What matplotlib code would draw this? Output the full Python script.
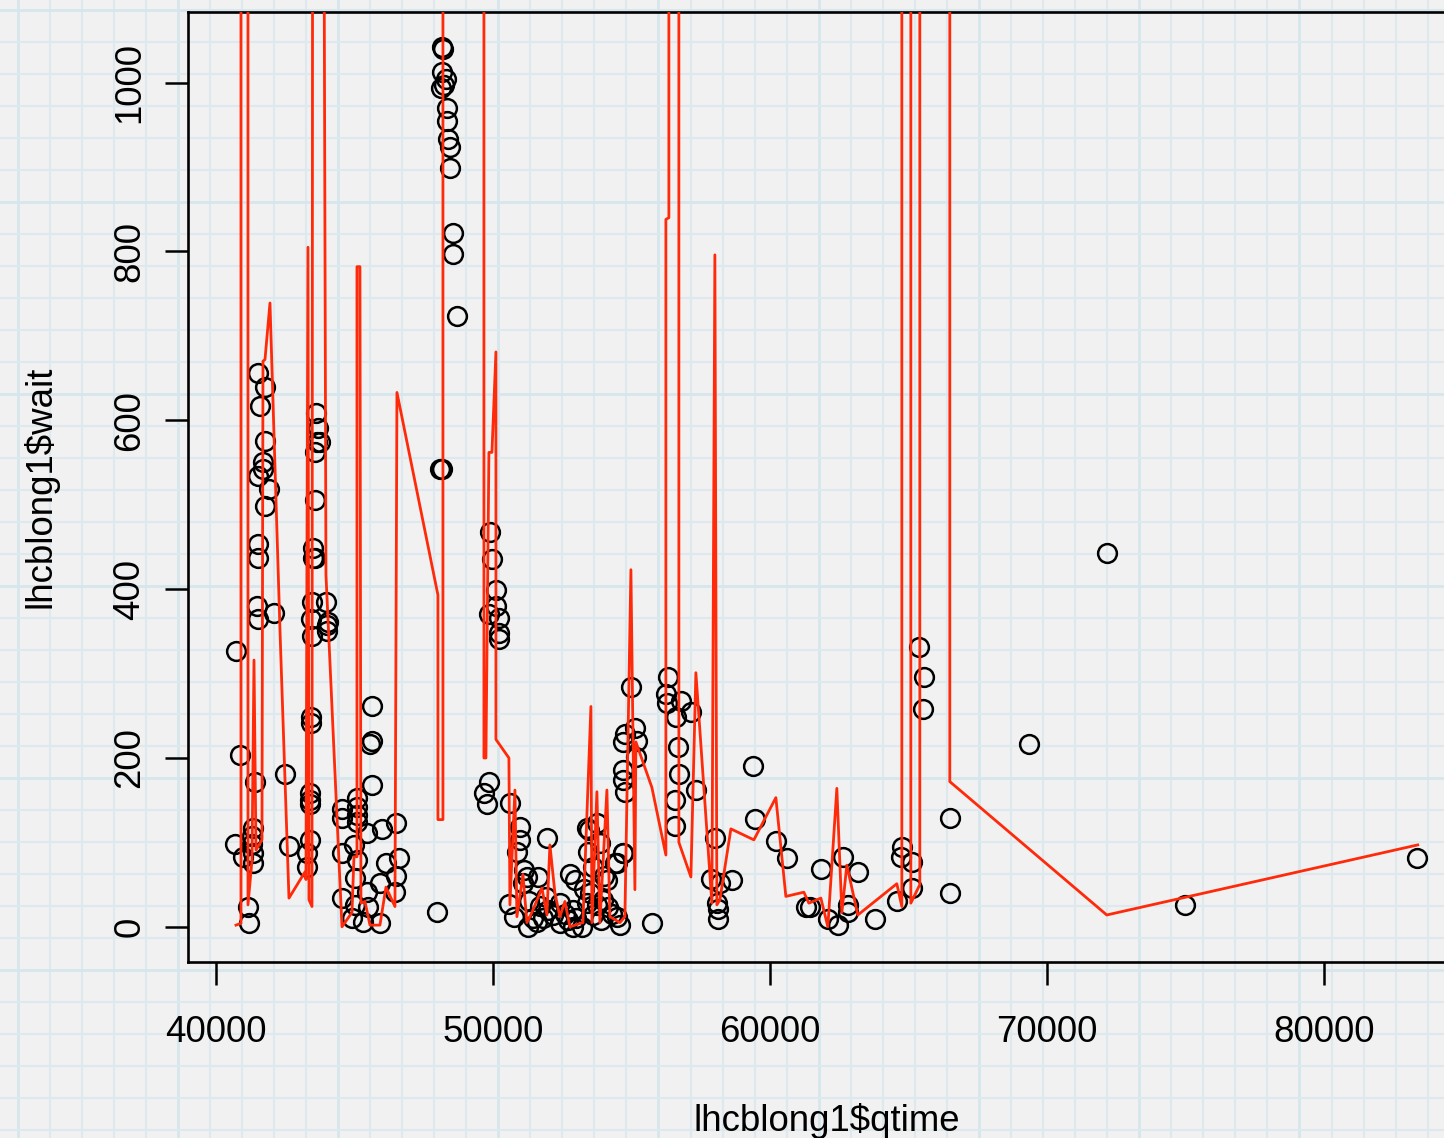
import matplotlib
matplotlib.use("Agg")
import matplotlib.pyplot as plt
import numpy as np

plt.rcParams['font.family'] = ['Liberation Sans', 'DejaVu Sans']

# ---- scatter data: lhcblong1$qtime vs lhcblong1$wait ----
qtime = [
    40722, 40866, 40686, 40975, 41155, 41191, 41336, 41300, 41300, 41336, 41336, 41408,
    41516, 41769, 41588, 41769, 41697, 41697, 41516, 41913, 41769, 41516, 41516, 41480,
    41516, 42094, 42491, 42635,
    43610, 43682, 43646, 43754, 43574, 43574, 43502, 43502, 43574, 43466, 43971, 43430,
    44043, 43466, 44007, 44007, 43430, 43430, 43393, 43393, 43393, 43393, 43285, 43285,
    44549, 44549, 45090, 45090, 45090, 45090, 45993, 46498, 45451, 44549, 44982, 45090,
    46606, 46137, 46498, 45018, 45920, 46462, 44549, 45451, 45018, 45487, 44910, 45307,
    45920, 45631, 45631, 45560, 45631, 47978,
    48086, 48159, 48159, 48195, 48159, 48303, 48123, 48231, 48339, 48339, 48375, 48447,
    48447, 48556, 48556, 48700,
    49891, 49964, 50108, 50108, 49855, 50216, 50216, 50216, 49855, 49675, 49783, 50613,
    50974, 50974, 50866,
    51948, 50577, 50758, 51227, 51624, 51083, 51588, 51263, 52779, 52959, 53393, 53754,
    53862, 53429, 53610, 54115, 54476, 54693, 53393, 53754, 54152, 54476, 54584, 52887,
    53212, 52418, 52166, 51805, 51444, 52887, 53610, 53971, 52418, 55740, 51119, 53465,
    51300, 51700, 52000, 52600, 53000, 53300, 53500, 53900, 54300, 54000, 52700, 51900,
    54982, 54765, 54693, 55126, 55198, 55162, 54693, 54693, 54765, 54693, 54404,
    56317, 56245, 56281, 56787, 56606, 57148, 56678, 56714, 56570, 56570, 57328, 58014,
    57870, 58194, 58628, 58086, 58122, 58122,
    59386, 59458, 60216, 60613, 61841, 61298, 61443, 62093, 62454, 62635, 63176, 62815,
    62815, 63790, 64584, 64765, 64729, 65126, 65126, 65379, 65560, 65524, 66497, 66497,
    69349, 72165, 74981, 83356,
]
wait = [
    327, 204, 98, 83, 23, 5, 117, 107, 98, 88, 76, 171,
    656, 639, 617, 576, 551, 542, 534, 519, 498, 453, 437, 380,
    365, 372, 181, 96,
    609, 591, 574, 574, 563, 506, 449, 437, 437, 385, 385, 365,
    361, 344, 350, 358, 248, 241, 159, 150, 145, 103, 88, 71,
    140, 129, 152, 142, 133, 124, 116, 123, 111, 88, 97, 79,
    81, 75, 60, 58, 52, 41, 34, 41, 26, 24, 11, 6,
    5, 262, 220, 217, 168, 18,
    542, 542, 1042, 1040, 1013, 1004, 994, 997, 970, 955, 933, 924,
    899, 822, 797, 723,
    468, 436, 399, 380, 370, 366, 348, 341, 171, 158, 145, 147,
    118, 103, 89,
    105, 27, 12, 59, 59, 52, 6, 0, 62, 56, 117, 123,
    99, 89, 71, 56, 76, 88, 28, 26, 23, 12, 2, 0,
    0, 5, 14, 11, 11, 20, 14, 32, 28, 5, 67, 115,
    30, 25, 20, 15, 10, 45, 40, 8, 15, 60, 8, 35,
    284, 228, 219, 235, 220, 201, 186, 174, 160, 88, 76,
    296, 276, 265, 268, 249, 254, 213, 181, 150, 120, 162, 105,
    57, 52, 55, 28, 21, 9,
    190, 128, 102, 81, 69, 23, 23, 9, 2, 83, 65, 26,
    17, 9, 30, 94, 83, 77, 46, 331, 296, 258, 129, 40,
    217, 443, 26, 82,
]

# ---- red line (fitted values joined in data order) ----
line_x = [
    40722, 40902, 40902, 41155, 41155, 41300, 41372, 41444, 41660, 41697, 41769, 41949,
    42310, 42635, 43213, 43249, 43321, 43357, 43466, 43502, 43827, 43971, 44549, 44910,
    44982, 45090, 45090, 45198, 45234, 45379, 45560, 45920, 46137, 46462, 46534, 48014,
    48014, 48195, 48195, 49675, 49675, 49747, 49855, 49964, 50108, 50108, 50577, 50613,
    50794, 50866, 51083, 51227, 51408, 51769, 51949, 52057, 52238, 52418, 52599, 52779,
    53249, 53538, 53574, 53754, 53862, 54115, 54223, 54584, 54765, 54982, 55126, 55162,
    55740, 56245, 56245, 56353, 56353, 56714, 56714, 57148, 57328, 57906, 58014, 58086,
    58194, 58592, 59422, 60216, 60577, 61227, 61407, 61841, 62093, 62418, 62599, 62779,
    63176, 64584, 64765, 64765, 65090, 65090, 65414, 65414, 66497, 66497, 72165, 83392,
]
line_y = [
    2, 4, 2000, 2000, 26, 79, 316, 91, 103, 670, 672, 739,
    352, 34, 65, 56, 805, 32, 24, 2000, 2000, 417, 0, 17,
    83, 83, 782, 782, 28, 30, 2, 2, 47, 24, 633, 393,
    127, 127, 2000, 2000, 200, 200, 562, 562, 681, 222, 200, 26,
    162, 12, 62, 5, 17, 46, 14, 97, 40, 12, 30, 0,
    5, 261, 5, 160, 5, 162, 12, 5, 12, 423, 44, 219,
    165, 85, 838, 840, 2000, 2000, 100, 59, 301, 28, 796, 26,
    32, 116, 103, 153, 36, 41, 28, 34, 0, 164, 17, 73,
    14, 51, 24, 2000, 2000, 28, 50, 2000, 2000, 172, 14, 97,
]

x_ticks = [40000, 50000, 60000, 70000, 80000]
y_ticks = [0, 200, 400, 600, 800, 1000]

W, H = 1444, 1138
fig = plt.figure(figsize=(W / 100, H / 100), dpi=100, facecolor='#f1f1f1')

# graph-paper background
bg = fig.add_axes([0, 0, 1, 1], zorder=-5)
bg.set_xlim(0, W)
bg.set_ylim(H, 0)
bg.axis('off')
k = 0
xv = 17.5
while xv < W:
    heavy = (k % 5 == 0)
    bg.axvline(xv, color='#d6e6ec' if heavy else '#dde9ee', lw=2.0 if heavy else 1.5)
    xv += 32.05
    k += 1
k = 0
yv = 10
while yv < H:
    heavy = (k % 6 == 0)
    bg.axhline(yv, color='#d6e6ec' if heavy else '#dde9ee', lw=2.0 if heavy else 1.5)
    yv += 32.0
    k += 1

# main axes (right edge extends beyond the image, like the reference)
left_px, right_px, top_px, bot_px = 188.3, 1465.0, 12.0, 962.0
ax = fig.add_axes([left_px / W, (H - bot_px) / H, (right_px - left_px) / W, (bot_px - top_px) / H])
ax.set_facecolor('none')

ax.plot(qtime, wait, linestyle='none', marker='o', mfc='none', mec='black',
        ms=13.5, mew=1.8, zorder=2)
ax.plot(line_x, line_y, color='#ff2a0a', lw=2.0, zorder=3)

ax.set_xlim(39000, 85100)
ax.set_ylim(-41.7, 1083.7)
ax.set_xticks(x_ticks)
ax.set_yticks(y_ticks)
ax.set_xticklabels([str(v) for v in x_ticks])
ax.set_yticklabels([str(v) for v in y_ticks], rotation=90, va='center')

for s in ax.spines.values():
    s.set_linewidth(1.9)
    s.set_color('black')

ax.tick_params(axis='both', direction='out', length=16.5, width=1.8, colors='black',
               labelsize=26.4)
ax.tick_params(axis='x', pad=22)
ax.tick_params(axis='y', pad=13)

ax.set_xlabel(r'lhcblong1\$qtime', fontsize=26.4, labelpad=38)
ax.set_ylabel(r'lhcblong1\$wait', fontsize=26.4, labelpad=39)

fig.savefig('out.png', dpi=100, facecolor=fig.get_facecolor())
